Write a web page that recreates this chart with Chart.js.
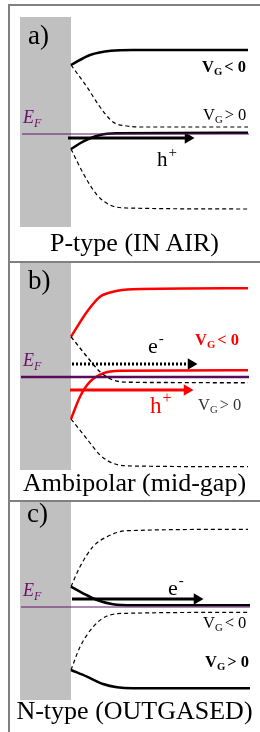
<!DOCTYPE html>
<html>
<head>
<meta charset="utf-8">
<script src="https://cdn.jsdelivr.net/npm/chart.js@4/dist/chart.umd.min.js"></script>
<style>
  body { margin: 0; width: 260px; height: 732px; background: #fff; position: relative; overflow: hidden; font-family: 'Liberation Serif', serif; }
  canvas { position: absolute; left: 0; }
  .rule { position: absolute; background: #808080; z-index: 2; }
  .cap { position: absolute; left: 9px; width: 251px; text-align: center; font-size: 26px; line-height: 26px; color: #000; z-index: 2; white-space: nowrap; }
</style>
</head>
<body>
<div class="rule" style="left:8px;top:4px;width:252px;height:2px"></div>
<div class="rule" style="left:8px;top:4px;width:2px;height:728px"></div>
<div class="rule" style="left:8px;top:261px;width:252px;height:2px"></div>
<div class="rule" style="left:8px;top:500px;width:252px;height:2px"></div>
<canvas id="chartA" width="260" height="257" style="top:5px"></canvas>
<canvas id="chartB" width="260" height="239" style="top:262px"></canvas>
<canvas id="chartC" width="260" height="231" style="top:501px"></canvas>
<div class="cap" style="top:230px">P-type (IN AIR)</div>
<div class="cap" style="top:470px">Ambipolar (mid-gap)</div>
<div class="cap" style="top:698px">N-type (OUTGASED)</div>
<script>
// distancia desde la interfaz (x) y energia relativa a E_F (y)
// panel a) P-type
const aCbX = [0, 19, 40, 62, 177];
const aCbNeg = [69, 79, 83.3, 84, 84];          // V_G < 0 banda de conduccion
const aCbPosX = [0, 16, 29, 42, 56, 69, 177];
const aCbPos = [69, 47, 27, 12, 8, 7, 7];        // V_G > 0
const aVbX = [0, 12, 29, 46, 177];
const aVbNeg = [-15, -7.7, -1, 0.7, 1.3];
const aVbPosX = [0, 12, 26, 39, 56, 177];
const aVbPos = [-15, -39, -61, -71, -74, -75];
const aEfX = [-49, 178];
const aArrowX = [-3, 117];
const aArrowE = [-4, -4];

// panel b) Ambipolar
const bCbX = [0, 16, 29, 42, 62, 177];
const bCbNeg = [40.3, 65.3, 80.3, 85.3, 87.7, 88.7];
const bCbPos = [40.3, 20.3, 5.3, -3, -5.3, -5.7];
const bVbNegX = [0, 9, 19, 32, 49, 177];
const bVbNeg = [-42, -19.7, -4.7, 3.7, 6.3, 6.7];
const bVbPosX = [0, 16, 29, 42, 62, 177];
const bVbPos = [-42, -62, -78, -86.3, -89, -89.7];
const bEfX = [-50, 178];
const bElecX = [1, 120];
const bElecE = [13, 13];
const bHoleX = [-1, 116];
const bHoleE = [-13, -13];

// panel c) N-type
const cCbPosX = [0, 9, 22, 36, 56, 177];
const cCbPos = [20.3, 40.3, 60.3, 70.3, 76.3, 77.7];
const cCbNegX = [0, 12, 26, 42, 62, 179];
const cCbNeg = [20.3, 13.7, 7, 2.7, 1.7, 1.7];
const cVbNegX = [0, 9, 22, 36, 56, 177];
const cVbNeg = [-63, -40, -20, -9, -6.3, -5.3];
const cVbPosX = [0, 16, 32, 46, 62, 179];
const cVbPos = [-63, -69.7, -77, -80.3, -81.3, -81.3];
const cEfX = [-50, 179];
const cArrowX = [1, 126];
const cArrowE = [8, 8];

const SERIF = "'Liberation Serif', 'Times New Roman', serif";
const PURPLE = '#6a0f6a';

function pts(xs, ys) { return xs.map((x, i) => ({ x: x, y: ys[i] })); }

function curve(xs, ys, color, width, dash) {
    return {
        data: pts(xs, ys),
        borderColor: color,
        borderWidth: width,
        borderDash: dash || [],
        cubicInterpolationMode: 'monotone',
        pointRadius: 0,
        fill: false
    };
}
function flat(xs, e, color, width) {
    return curve(xs, xs.map(() => e), color, width);
}
function arrow(xs, ys, color, dash) {
    return {
        data: pts(xs, ys),
        borderColor: color,
        borderWidth: 3,
        borderDash: dash || [],
        pointRadius: [0, 6.5],
        pointStyle: 'triangle',
        rotation: 90,
        pointBackgroundColor: color,
        pointBorderColor: color,
        pointBorderWidth: 0,
        fill: false
    };
}

// texto con subindices / superindices
function drawRich(ctx, x, y, parts) {
    let cx = x;
    parts.forEach(p => {
        ctx.font = (p.style || '') + ' ' + p.size + 'px ' + SERIF;
        ctx.fillStyle = p.color;
        ctx.fillText(p.t, cx, y + (p.dy || 0));
        cx += ctx.measureText(p.t).width + (p.gap || 0);
    });
}
function vg(sign, color, bold, size) {
    const st = bold ? 'bold' : '';
    return [
        { t: 'V', size: size, style: st, color: color },
        { t: 'G', size: size * 0.65, style: st, color: color, dy: 3, gap: 2 },
        { t: sign + ' 0', size: size, style: st, color: color }
    ];
}
function ef() {
    return [
        { t: 'E', size: 18, style: 'italic', color: PURPLE },
        { t: 'F', size: 12, style: 'italic', color: PURPLE, dy: 4 }
    ];
}
function carrier(ch, sign, color, size) {
    return [
        { t: ch, size: size, color: color, gap: 1 },
        { t: sign, size: Math.round(size * 0.7), color: color, dy: -Math.round(size * 0.45) }
    ];
}

function panel(id, eMax, eMin, barTop, barBottom, datasets, labels) {
    const decor = {
        id: 'decor',
        beforeDatasetsDraw(chart) {
            const { ctx, scales: { x, y } } = chart;
            ctx.save();
            ctx.fillStyle = '#c0c0c0';
            const x0 = x.getPixelForValue(-51), x1 = x.getPixelForValue(0);
            const y0 = y.getPixelForValue(barTop), y1 = y.getPixelForValue(barBottom);
            ctx.fillRect(x0, y0, x1 - x0, y1 - y0);
            ctx.restore();
        },
        afterDatasetsDraw(chart) {
            const { ctx, scales: { x, y } } = chart;
            ctx.save();
            ctx.textBaseline = 'alphabetic';
            labels.forEach(l => drawRich(ctx, x.getPixelForValue(l.x), y.getPixelForValue(l.y), l.parts));
            ctx.restore();
        }
    };
    return new Chart(document.getElementById(id).getContext('2d'), {
        type: 'scatter',
        data: { datasets: datasets.map(d => Object.assign({ showLine: true }, d)) },
        options: {
            responsive: false,
            animation: false,
            layout: { padding: 0, autoPadding: false },
            plugins: { legend: { display: false }, tooltip: { enabled: false } },
            scales: {
                x: { type: 'linear', min: -71, max: 189, display: false },
                y: { type: 'linear', min: eMin, max: eMax, display: false }
            }
        },
        plugins: [decor]
    });
}

panel('chartA', 129, -128, 117, -93, [
    flat(aEfX, 0, PURPLE, 1.2),
    curve(aCbX, aCbNeg, '#000', 2.5),
    curve(aCbPosX, aCbPos, '#000', 1.2, [4, 3]),
    curve(aVbX, aVbNeg, '#000', 2.5),
    curve(aVbPosX, aVbPos, '#000', 1.2, [4, 3]),
    arrow(aArrowX, aArrowE, '#000')
], [
    { x: -43, y: 90, parts: [{ t: 'a)', size: 27, color: '#000' }] },
    { x: -48, y: 11, parts: ef() },
    { x: 131, y: 62, parts: vg('<', '#000', true, 16.5) },
    { x: 132, y: 14, parts: vg('>', '#000', false, 16.5) },
    { x: 86, y: -32, parts: carrier('h', '+', '#000', 21) }
]);

panel('chartB', 115, -124, 114, -93, [
    curve(bCbX, bCbPos, '#000', 1.4, [4, 3]),
    curve(bVbPosX, bVbPos, '#000', 1.2, [4, 3]),
    flat(bEfX, 0, '#5c0a5c', 2.5),
    curve(bCbX, bCbNeg, '#ff0000', 2.5),
    curve(bVbNegX, bVbNeg, '#ff0000', 2.5),
    arrow(bElecX, bElecE, '#000', [2, 2]),
    arrow(bHoleX, bHoleE, '#ff0000')
], [
    { x: -43, y: 88, parts: [{ t: 'b)', size: 27, color: '#000' }] },
    { x: -48, y: 11, parts: ef() },
    { x: 77, y: 24, parts: carrier('e', '-', '#000', 22) },
    { x: 124, y: 32, parts: vg('<', '#ff0000', true, 16.5) },
    { x: 79, y: -36, parts: carrier('h', '+', '#ff0000', 23) },
    { x: 127, y: -33, parts: vg('>', '#333', false, 16.5) }
]);

panel('chartC', 106, -125, 106, -93, [
    flat(cEfX, 0, PURPLE, 1.2),
    curve(cCbPosX, cCbPos, '#000', 1.2, [4, 3]),
    curve(cCbNegX, cCbNeg, '#000', 2.5),
    curve(cVbNegX, cVbNeg, '#000', 1.2, [4, 3]),
    curve(cVbPosX, cVbPos, '#000', 2.5),
    arrow(cArrowX, cArrowE, '#000')
], [
    { x: -44, y: 85, parts: [{ t: 'c)', size: 27, color: '#000' }] },
    { x: -48, y: 11, parts: ef() },
    { x: 97, y: 12, parts: carrier('e', '-', '#000', 22) },
    { x: 132, y: -21, parts: vg('<', '#000', false, 16.5) },
    { x: 134, y: -60, parts: vg('>', '#000', true, 16.5) }
]);
</script>
</body>
</html>
